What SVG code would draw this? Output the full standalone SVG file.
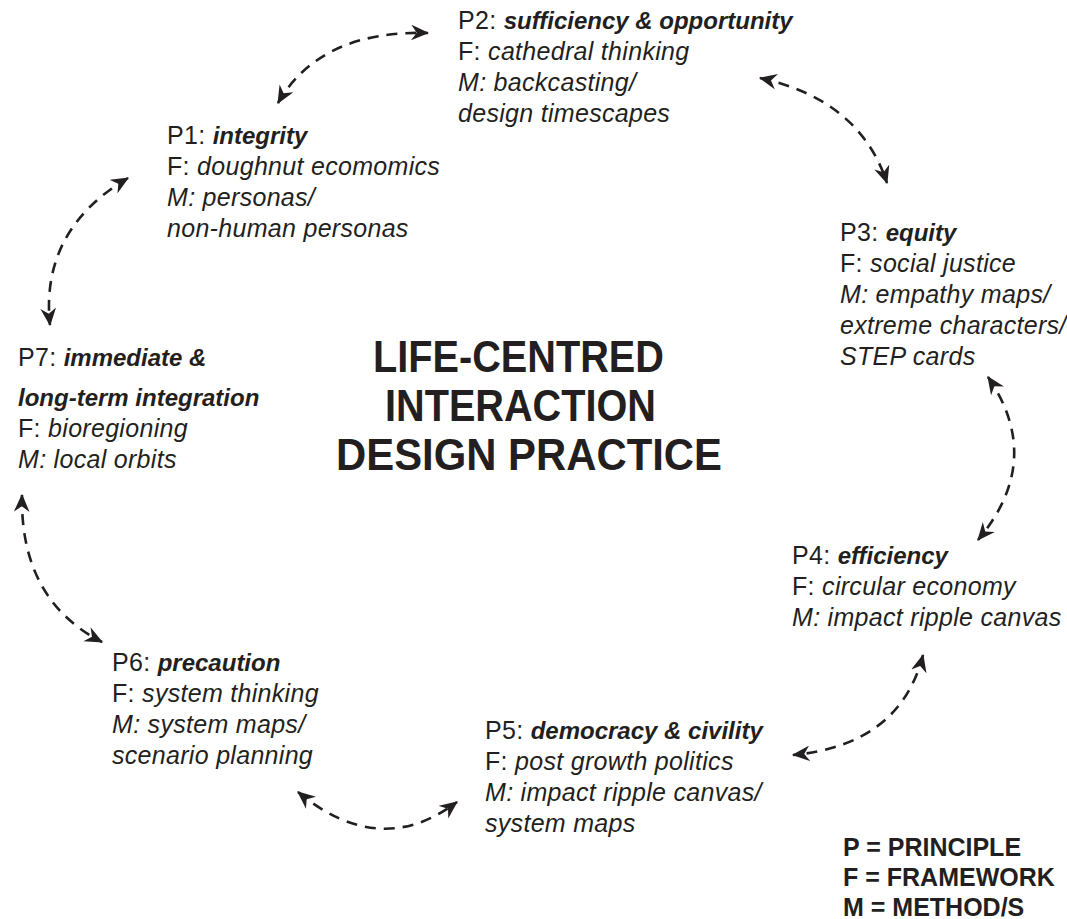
<svg xmlns="http://www.w3.org/2000/svg" width="1067" height="919" viewBox="0 0 1067 919">
<style>
text{font-family:"Liberation Sans",Arial,sans-serif;fill:#231f20;font-size:25px;letter-spacing:0.3px}
.b{font-weight:bold;font-style:italic;font-size:24px;letter-spacing:0}
.i{font-style:italic}
.title{font-weight:bold;font-size:45px;letter-spacing:0}
.leg{font-weight:bold;font-size:25px;letter-spacing:0}
.c{fill:none;stroke:#231f20;stroke-width:2.6;stroke-dasharray:11 8;marker-start:url(#ah);marker-end:url(#ah)}
</style>
<defs>
<marker id="ah" viewBox="0 0 16 14" refX="15" refY="7" markerWidth="18" markerHeight="16" markerUnits="userSpaceOnUse" orient="auto-start-reverse">
<path d="M0,0 L16,7 L0,14 L5,7 z" fill="#231f20"/>
</marker>
</defs>
<rect width="1067" height="919" fill="#fff"/>
<g id="connectors">
<path class="c" d="M278,103 Q320,30 428,33"/>
<path class="c" d="M760,78 Q860,100 887,183"/>
<path class="c" d="M988,377 Q1045,460 978,540"/>
<path class="c" d="M923,655 Q900,745 793,755"/>
<path class="c" d="M298,792 Q380,860 457,802"/>
<path class="c" d="M22,495 Q20,600 102,642"/>
<path class="c" d="M128,178 Q40,230 50,325"/>
</g>
<g id="title">
<text class="title" x="373" y="372" textLength="291" lengthAdjust="spacingAndGlyphs">LIFE-CENTRED</text>
<text class="title" x="385" y="421" textLength="271" lengthAdjust="spacingAndGlyphs">INTERACTION</text>
<text class="title" x="336" y="470" textLength="386" lengthAdjust="spacingAndGlyphs">DESIGN PRACTICE</text>
</g>
<g id="p1">
<text x="167" y="144">P1: <tspan class="b">integrity</tspan></text>
<text x="167" y="175">F: <tspan class="i">doughnut ecomomics</tspan></text>
<text x="167" y="206" class="i">M: personas/</text>
<text x="167" y="237" class="i">non-human personas</text>
</g>
<g id="p2">
<text x="458" y="29">P2: <tspan class="b">sufficiency &amp; opportunity</tspan></text>
<text x="458" y="60">F: <tspan class="i">cathedral thinking</tspan></text>
<text x="458" y="91" class="i">M: backcasting/</text>
<text x="458" y="122" class="i">design timescapes</text>
</g>
<g id="p3">
<text x="840" y="241">P3: <tspan class="b">equity</tspan></text>
<text x="840" y="272">F: <tspan class="i">social justice</tspan></text>
<text x="840" y="303" class="i">M: empathy maps/</text>
<text x="840" y="334" class="i">extreme characters/</text>
<text x="840" y="365" class="i">STEP cards</text>
</g>
<g id="p4">
<text x="792" y="564">P4: <tspan class="b">efficiency</tspan></text>
<text x="792" y="595">F: <tspan class="i">circular economy</tspan></text>
<text x="792" y="626" class="i">M: impact ripple canvas</text>
</g>
<g id="p5">
<text x="485" y="739">P5: <tspan class="b">democracy &amp; civility</tspan></text>
<text x="485" y="770">F: <tspan class="i">post growth politics</tspan></text>
<text x="485" y="801" class="i">M: impact ripple canvas/</text>
<text x="485" y="832" class="i">system maps</text>
</g>
<g id="p6">
<text x="112" y="671">P6: <tspan class="b">precaution</tspan></text>
<text x="112" y="702">F: <tspan class="i">system thinking</tspan></text>
<text x="112" y="733" class="i">M: system maps/</text>
<text x="112" y="764" class="i">scenario planning</text>
</g>
<g id="p7">
<text x="18" y="366">P7: <tspan class="b">immediate &amp;</tspan></text>
<text x="18" y="406" class="b">long-term integration</text>
<text x="18" y="437">F: <tspan class="i">bioregioning</tspan></text>
<text x="18" y="468" class="i">M: local orbits</text>
</g>
<g id="legend">
<text class="leg" x="843" y="856">P = PRINCIPLE</text>
<text class="leg" x="843" y="886">F = FRAMEWORK</text>
<text class="leg" x="843" y="916">M = METHOD/S</text>
</g>
</svg>
